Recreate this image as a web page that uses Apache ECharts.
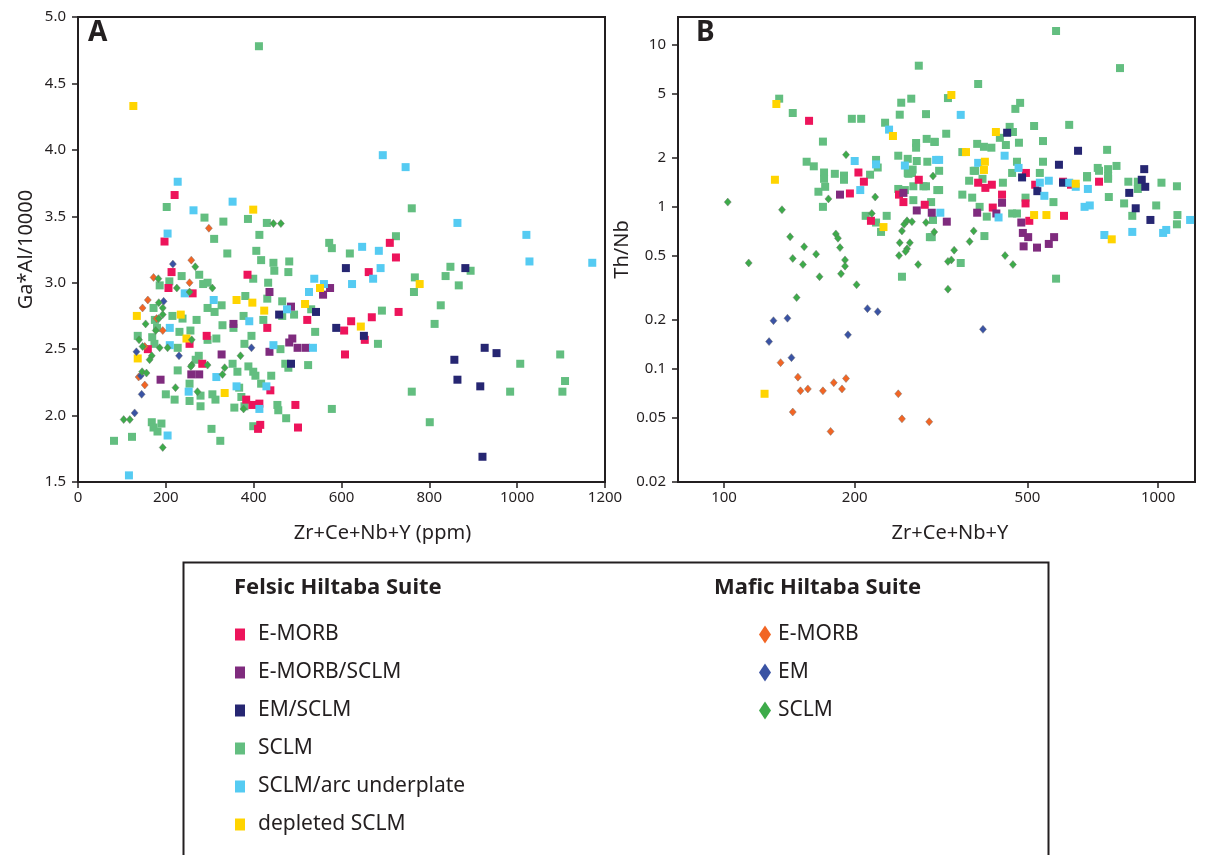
<!DOCTYPE html>
<html><head><meta charset="utf-8">
<script src="https://cdn.jsdelivr.net/npm/echarts@6/dist/echarts.min.js"></script>
<style>html,body{margin:0;padding:0;background:#fff}#c{width:1218px;height:855px}</style>
</head><body><div id="c"></div>
<script>
// ---------- Panel A : Ga*Al/10000 vs Zr+Ce+Nb+Y (ppm) ----------
const aXTicks = [0, 200, 400, 600, 800, 1000, 1200];
const aYTicks = [1.5, 2.0, 2.5, 3.0, 3.5, 4.0, 4.5, 5.0];

const aFelsicEMORB = [[220,3.66],[197,3.31],[710,3.30],[724,3.19],[662,3.08],[730,2.78],[622,2.71],[669,2.74],[606,2.64],[653,2.57],[608,2.46],[386,3.06],[431,2.66],[522,2.72],[438,2.19],[383,2.12],[397,2.08],[413,2.09],[495,2.08],[415,1.93],[410,1.90],[501,1.91],[213,3.08],[206,2.96],[261,2.92],[293,2.60],[254,2.54],[159,2.50],[283,2.39]];
const aFelsicEMORBSCLM = [[436,2.93],[574,2.96],[558,2.91],[485,2.82],[354,2.69],[488,2.58],[481,2.55],[500,2.51],[519,2.51],[436,2.48],[258,2.31],[276,2.31],[188,2.27],[327,2.46]];
const aFelsicEMSCLM = [[610,3.11],[882,3.11],[651,2.60],[926,2.51],[953,2.47],[857,2.42],[864,2.27],[916,2.22],[921,1.69],[542,2.78],[458,2.76],[588,2.66],[485,2.39]];
const aFelsicSCLM = [[412,4.78],[202,3.57],[288,3.49],[331,3.46],[387,3.48],[430,3.45],[413,3.36],[310,3.33],[572,3.30],[760,3.56],[724,3.35],[619,3.22],[848,3.12],[894,3.09],[837,3.05],[767,3.04],[867,2.98],[765,2.93],[826,2.83],[692,2.79],[812,2.69],[683,2.54],[1007,2.39],[1098,2.46],[760,2.18],[984,2.18],[1109,2.26],[1103,2.18],[801,1.95],
[340,3.22],[406,3.24],[417,3.17],[445,3.15],[447,3.09],[481,3.16],[479,3.08],[578,3.26],[399,3.03],[433,3.00],[381,2.90],[431,2.88],[327,2.83],[465,2.86],[531,2.80],[492,2.76],[465,2.75],[377,2.75],[422,2.72],[329,2.68],[354,2.66],[395,2.60],[315,2.58],[379,2.54],[540,2.63],[461,2.50],[472,2.39],[479,2.36],[524,2.38],[352,2.39],[388,2.37],[363,2.33],[399,2.33],[404,2.30],[440,2.30],[417,2.24],[367,2.21],[306,2.16],[313,2.12],[372,2.14],[356,2.06],[379,2.07],[454,2.08],[456,2.04],[474,1.98],[578,2.05],[399,1.92],[324,1.81],[304,1.90],
[236,3.05],[276,3.06],[186,2.98],[208,3.01],[295,3.00],[285,2.99],[172,2.81],[215,2.75],[238,2.73],[270,2.72],[295,2.81],[311,2.78],[175,2.72],[180,2.66],[231,2.63],[256,2.64],[295,2.57],[136,2.60],[169,2.59],[174,2.54],[227,2.51],[275,2.45],[268,2.42],[227,2.34],[254,2.24],[279,2.15],[254,2.11],[200,2.16],[220,2.12],[279,2.07],[168,1.95],[172,1.91],[190,1.94],[181,1.88],[123,1.84],[82,1.81]];
const aFelsicArc = [[227,3.76],[263,3.545],[352,3.61],[204,3.37],[694,3.96],[746,3.87],[864,3.45],[1021,3.36],[647,3.27],[685,3.24],[689,3.11],[672,3.03],[624,2.99],[1028,3.16],[1171,3.15],[538,3.03],[560,2.99],[526,2.93],[476,2.80],[390,2.71],[535,2.51],[445,2.53],[315,2.29],[361,2.22],[429,2.22],[413,2.05],[243,2.92],[209,2.66],[209,2.53],[252,2.18],[204,1.85],[116,1.55],[309,2.87]];
const aFelsicDepleted = [[126,4.33],[399,3.55],[778,2.99],[644,2.67],[361,2.87],[397,2.85],[551,2.96],[517,2.84],[424,2.79],[334,2.17],[134,2.75],[234,2.76],[247,2.58],[136,2.43]];
const aMaficEMORB = [[298,3.41],[258,3.17],[172,3.04],[254,3.00],[159,2.87],[147,2.81],[179,2.73],[193,2.64],[152,2.52],[138,2.29],[152,2.23]];
const aMaficEM = [[216,3.14],[195,2.86],[133,2.48],[230,2.45],[143,2.30],[145,2.16],[129,2.02],[395,2.51]];
const aMaficSCLM = [[445,3.445],[462,3.445],[267,3.12],[183,3.03],[225,2.96],[306,2.96],[254,2.93],[184,2.85],[193,2.81],[184,2.73],[193,2.76],[154,2.69],[177,2.64],[259,2.57],[139,2.57],[147,2.52],[186,2.51],[204,2.51],[168,2.45],[163,2.42],[259,2.38],[257,2.37],[295,2.38],[146,2.33],[156,2.32],[222,2.21],[272,2.18],[104,1.97],[118,1.97],[193,1.76],[370,2.45],[334,2.36],[329,2.31],[377,2.05]];

// ---------- Panel B : Th/Nb vs Zr+Ce+Nb+Y (log-log) ----------
const bXTicks = [100, 200, 500, 1000];
const bYTicks = [0.02, 0.05, 0.1, 0.2, 0.5, 1, 2, 5, 10];

const bFelsicEMORB = [[157,3.40],[204,1.63],[195,1.21],[210,1.43],[218,0.82],[253,1.19],[259,1.07],[281,1.47],[290,1.03],[385,1.41],[400,1.31],[414,1.37],[416,0.99],[437,1.19],[495,1.05],[505,0.82],[607,0.88],[521,1.37],[604,1.43],[630,1.37],[731,1.43],[496,1.62]];
const bFelsicEMORBSCLM = [[185,1.19],[278,0.95],[259,1.22],[301,0.92],[326,0.81],[383,0.92],[424,0.91],[437,1.06],[484,0.80],[488,0.69],[502,0.65],[490,0.57],[526,0.56],[560,0.59],[576,0.65]];
const bFelsicEMSCLM = [[449,2.87],[654,2.22],[591,1.82],[929,1.71],[486,1.52],[527,1.25],[604,1.41],[858,1.22],[888,0.98],[934,1.33],[917,1.47],[960,0.83]];
const bFelsicSCLM = [[281,7.45],[134,4.66],[144,3.80],[197,3.5],[207,3.5],[256,4.40],[270,4.66],[254,3.71],[292,3.74],[235,3.31],[169,2.53],[277,2.48],[277,2.32],[293,2.63],[305,2.52],[224,1.95],[226,1.75],[155,1.90],[161,1.78],[252,2.07],[265,1.98],[278,1.92],[294,1.90],[272,1.70],[265,1.62],[170,1.63],[180,1.60],[189,1.56],[217,1.58],
[582,12.2],[817,7.2],[385,5.74],[328,4.7],[481,4.39],[469,4.03],[455,3.12],[463,2.90],[518,3.16],[624,3.21],[325,2.83],[306,2.52],[432,2.67],[446,2.41],[413,2.32],[397,2.35],[383,2.45],[478,2.49],[543,2.55],[354,2.18],[763,2.25],[726,1.74],[767,1.71],[802,1.79],[543,1.90],[473,1.90],[461,1.62],[379,1.67],[313,1.67],[534,1.62],[686,1.55],[767,1.55],
[169,1.0],[165,1.24],[171,1.33],[170,1.49],[189,1.47],[212,0.88],[224,0.80],[230,0.70],[237,0.88],[257,0.37],[252,1.29],[261,1.27],[273,1.34],[288,1.34],[292,1.34],[273,1.10],[300,1.07],[266,1.60],[271,1.62],[298,0.65],[310,1.27],
[313,1.27],[303,0.83],[301,0.65],[351,0.45],[354,1.19],[373,1.14],[367,1.45],[376,1.67],[394,1.49],[388,1.0],[403,0.87],[398,0.66],[439,1.41],[461,0.91],[473,0.91],[495,1.14],[574,1.07],[582,0.36],[686,1.52],[767,1.49],[731,1.67],[770,1.15],[835,1.05],[872,0.88],[898,1.29],[854,1.43],[898,1.43],[990,1.02],[1018,1.41],[1105,1.34],[1108,0.89],[1105,0.78]];
const bFelsicArc = [[240,3.0],[200,1.92],[224,1.83],[261,1.80],[308,1.95],[351,3.70],[313,1.95],[443,2.07],[477,1.74],[385,1.87],[206,1.27],[315,0.92],[429,0.86],[534,1.41],[560,1.45],[547,1.17],[624,1.41],[646,1.33],[689,1.29],[677,1.0],[696,1.02],[872,0.70],[752,0.67],[1044,0.72],[1027,0.69],[1185,0.83]];
const bFelsicDepleted = [[132,4.32],[334,4.91],[245,2.74],[423,2.90],[361,2.18],[399,1.90],[397,1.69],[131,1.47],[233,0.75],[518,0.89],[553,0.89],[646,1.39],[782,0.63],[124,0.070]];
const bMaficEMORB = [[135,0.109],[148,0.0887],[150,0.073],[156,0.075],[169,0.073],[179,0.082],[187,0.075],[191,0.087],[252,0.070],[144,0.054],[176,0.041],[257,0.049],[297,0.047]];
const bMaficEM = [[130,0.198],[140,0.205],[214,0.235],[226,0.225],[127,0.147],[143,0.117],[193,0.162],[395,0.175]];
const bMaficSCLM = [[191,2.10],[102,1.07],[136,0.96],[142,0.653],[153,0.567],[163,0.51],[144,0.48],[152,0.44],[114,0.45],[166,0.37],[181,0.68],[183,0.64],[185,0.56],[190,0.47],[190,0.43],[186,0.386],[202,0.33],[147,0.275],[174,1.12],[223,1.15],[219,0.91],[254,0.60],[268,0.60],[264,0.55],[262,0.53],[253,0.50],[280,0.44],[260,0.78],[264,0.82],[271,0.81],[257,0.71],[292,0.80],[305,0.70],[303,1.55],[339,0.54],[334,0.47],[328,0.46],[328,0.31],[376,0.71],[368,0.61],[444,0.50],[463,0.44]];

// ---------- legend names ----------
const felsicNames = ['E-MORB', 'E-MORB/SCLM', 'EM/SCLM', 'SCLM', 'SCLM/arc underplate', 'depleted SCLM'];
const maficNames = ['Mafic E-MORB', 'Mafic EM', 'Mafic SCLM'];

const FONT = "'Noto Sans', 'DejaVu Sans', sans-serif";
const INK = '#231f20';
const colors = {
  'E-MORB': '#ed145b', 'E-MORB/SCLM': '#7f2b7e', 'EM/SCLM': '#262672', 'SCLM': '#63be80',
  'SCLM/arc underplate': '#55cbf2', 'depleted SCLM': '#ffd400',
  'Mafic E-MORB': '#f26524', 'Mafic EM': '#3a53a4', 'Mafic SCLM': '#3dab4a'
};

const panelA = {
  'SCLM': aFelsicSCLM, 'E-MORB': aFelsicEMORB, 'E-MORB/SCLM': aFelsicEMORBSCLM, 'EM/SCLM': aFelsicEMSCLM,
  'SCLM/arc underplate': aFelsicArc, 'depleted SCLM': aFelsicDepleted,
  'Mafic E-MORB': aMaficEMORB, 'Mafic EM': aMaficEM, 'Mafic SCLM': aMaficSCLM
};
const panelB = {
  'SCLM': bFelsicSCLM, 'E-MORB': bFelsicEMORB, 'E-MORB/SCLM': bFelsicEMORBSCLM, 'EM/SCLM': bFelsicEMSCLM,
  'SCLM/arc underplate': bFelsicArc, 'depleted SCLM': bFelsicDepleted,
  'Mafic E-MORB': bMaficEMORB, 'Mafic EM': bMaficEM, 'Mafic SCLM': bMaficSCLM
};

const lg = v => Math.log10(v);
const fmt = v => String(parseFloat(Math.pow(10, v).toPrecision(3)));

function mkSeries(name, data, idx, transform) {
  const mafic = name.indexOf('Mafic') === 0;
  return {
    type: 'scatter', name: name, xAxisIndex: idx, yAxisIndex: idx,
    data: transform ? data.map(p => [lg(p[0]), lg(p[1])]) : data,
    symbol: mafic ? 'diamond' : 'rect',
    symbolSize: mafic ? [7, 8] : 8,
    itemStyle: mafic ? { color: colors[name], opacity: 1, borderColor: 'rgba(110,110,110,0.55)', borderWidth: 0.8 }
                     : { color: colors[name], opacity: 1 },
    emphasis: { disabled: true },
    z: mafic ? 3 : 2,
    animation: false
  };
}

const series = [];
Object.keys(panelA).forEach(n => series.push(mkSeries(n, panelA[n], 0, false)));
Object.keys(panelB).forEach(n => series.push(mkSeries(n, panelB[n], 1, true)));

const axisLine = { show: true, onZero: false, lineStyle: { color: INK, width: 2 } };
const axisTick = { show: true, inside: false, length: 6, lineStyle: { color: INK, width: 1.5 } };
const lblStyle = { color: INK, fontSize: 15, fontFamily: FONT };
const nameStyle = { color: INK, fontSize: 20, fontFamily: FONT };

const option = {
  backgroundColor: '#fff',
  animation: false,
  textStyle: { fontFamily: FONT },
  title: [
    { text: 'A', left: 88, top: 19, padding: 0, textStyle: { fontSize: 28, fontWeight: 'bold', color: INK, fontFamily: FONT } },
    { text: 'B', left: 696, top: 19, padding: 0, textStyle: { fontSize: 28, fontWeight: 'bold', color: INK, fontFamily: FONT } },
    { text: 'Felsic Hiltaba Suite', left: 234, top: 577, padding: 0, textStyle: { fontSize: 22, fontWeight: 'bold', color: INK, fontFamily: FONT } },
    { text: 'Mafic Hiltaba Suite', left: 714, top: 577, padding: 0, textStyle: { fontSize: 22, fontWeight: 'bold', color: INK, fontFamily: FONT } }
  ],
  graphic: [{
    type: 'rect', left: 181, top: 560, z: -1,
    shape: { width: 865, height: 310 },
    style: { fill: 'none', stroke: INK, lineWidth: 2 }
  }],
  legend: [
    {
      orient: 'vertical', left: 235, top: 624, itemGap: 17, itemWidth: 10, itemHeight: 12,
      padding: 0, selectedMode: false,
      data: felsicNames.map(n => ({ name: n, icon: 'rect' })),
      textStyle: { color: INK, fontSize: 21, lineHeight: 21, fontFamily: FONT, padding: [0, 0, 0, 8] }
    },
    {
      orient: 'vertical', left: 759, top: 624, itemGap: 17, itemWidth: 12, itemHeight: 18,
      padding: 0, selectedMode: false,
      data: maficNames.map(n => ({ name: n, icon: 'diamond', itemStyle: { borderWidth: 0 } })),
      formatter: n => n.replace('Mafic ', ''),
      textStyle: { color: INK, fontSize: 21, lineHeight: 21, fontFamily: FONT, padding: [0, 0, 0, 2] }
    }
  ],
  grid: [
    { left: 78, top: 17, width: 527, height: 465, show: true, borderColor: INK, borderWidth: 2, backgroundColor: 'transparent' },
    { left: 678, top: 17, width: 517, height: 465, show: true, borderColor: INK, borderWidth: 2, backgroundColor: 'transparent' }
  ],
  xAxis: [
    {
      gridIndex: 0, type: 'value', min: aXTicks[0], max: aXTicks[aXTicks.length - 1], interval: 200,
      axisLine: axisLine, axisTick: axisTick, splitLine: { show: false },
      axisLabel: Object.assign({ margin: 8, formatter: v => String(v) }, lblStyle),
      name: 'Zr+Ce+Nb+Y (ppm)', nameLocation: 'middle', nameGap: 41,
      nameTextStyle: Object.assign({ padding: [0, 0, 0, 82] }, nameStyle)
    },
    {
      gridIndex: 1, type: 'value', min: 1.894, max: 3.085,
      axisLine: axisLine, splitLine: { show: false },
      axisTick: Object.assign({ customValues: bXTicks.map(lg) }, axisTick),
      axisLabel: Object.assign({ margin: 8, customValues: bXTicks.map(lg), formatter: fmt }, lblStyle),
      name: 'Zr+Ce+Nb+Y', nameLocation: 'middle', nameGap: 41,
      nameTextStyle: Object.assign({ padding: [0, 0, 0, 27] }, nameStyle)
    }
  ],
  yAxis: [
    {
      gridIndex: 0, type: 'value', min: aYTicks[0], max: aYTicks[aYTicks.length - 1], interval: 0.5,
      axisLine: axisLine, axisTick: axisTick, splitLine: { show: false },
      axisLabel: Object.assign({ margin: 12, formatter: v => v.toFixed(1) }, lblStyle),
      name: 'Ga*Al/10000', nameLocation: 'middle', nameGap: 42, nameTextStyle: nameStyle
    },
    {
      gridIndex: 1, type: 'value', min: -1.70, max: 1.173,
      axisLine: axisLine, splitLine: { show: false },
      axisTick: Object.assign({ customValues: bYTicks.map(lg) }, axisTick),
      axisLabel: Object.assign({ margin: 12, customValues: bYTicks.map(lg), formatter: fmt }, lblStyle),
      name: 'Th/Nb', nameLocation: 'middle', nameGap: 32, nameTextStyle: nameStyle
    }
  ],
  series: series
};

const chart = echarts.init(document.getElementById('c'), null, { renderer: 'canvas' });
chart.setOption(option);
</script>
</body></html>
